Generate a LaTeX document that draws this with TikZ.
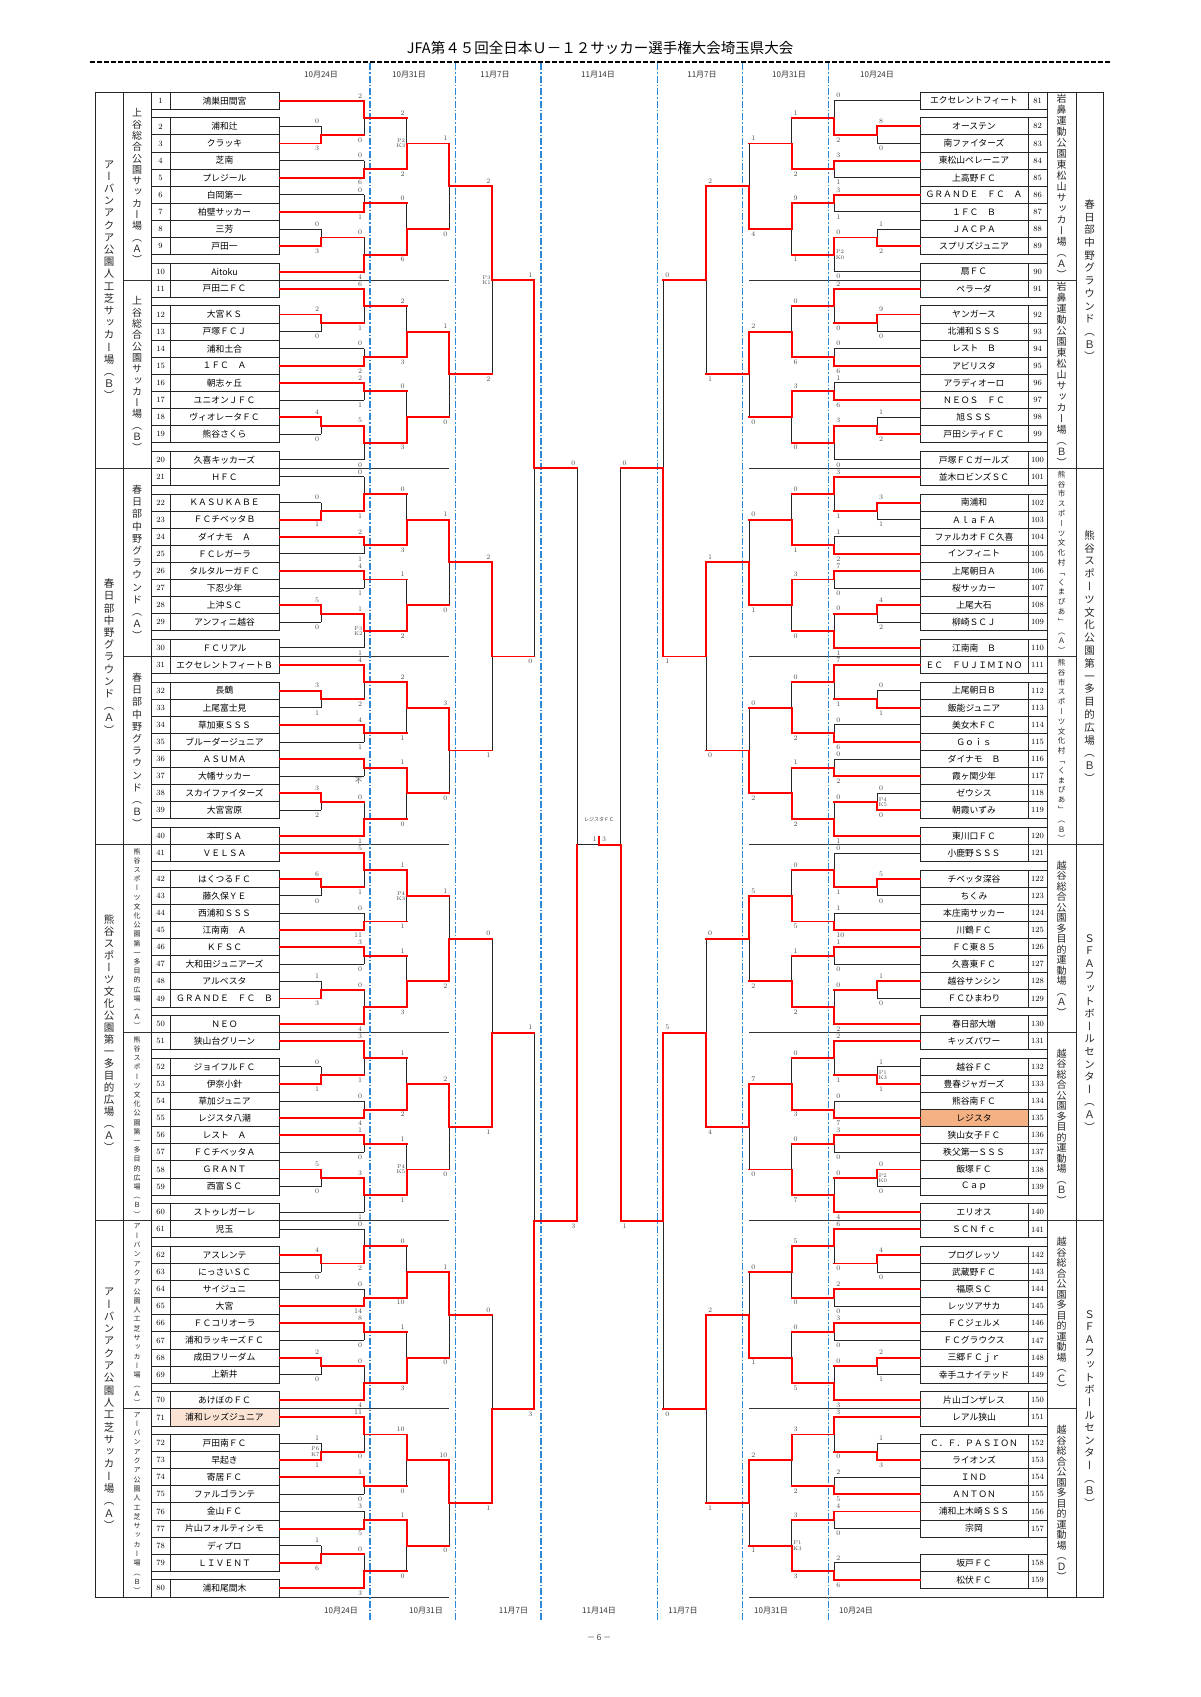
\documentclass[tikz,border=0pt]{standalone}
\usepackage{fontspec}
\newfontfamily\jf{Noto Sans CJK JP}
\newfontfamily\vjf[RawFeature=+vert]{Noto Sans CJK JP}
\definecolor{peach}{HTML}{FBE3D4}
\definecolor{orng}{HTML}{F4B183}
\definecolor{bl}{HTML}{2C88D9}
\pgfdeclarelayer{back}
\pgfdeclarelayer{bg}
\pgfsetlayers{back,bg,main}
\ExplSyntaxOn
\NewDocumentCommand\VT{mmm}{
  \vbox{\vjf\fontsize{#1}{#2}\selectfont
    \dim_set:Nn \lineskiplimit {-100pt}
    \tl_map_inline:nn {#3} {\hbox_to_wd:nn {#1pt} {\hfil ##1 \hfil}}
  }
}
\ExplSyntaxOff
\tikzset{
  win/.style={draw=red,line width=1.9pt,line cap=rect},
  lose/.style={draw=black!85,line width=0.9pt},
  sc/.style={font=\fontsize{7}{7}\selectfont,text=black!70,inner sep=0.3pt},
  pk/.style={font=\fontsize{5.5}{5.2}\selectfont,text=black!70,inner sep=0.3pt,align=center},
  namec/.style={draw=black!85,line width=0.9pt,minimum width=109pt,minimum height=17.1pt,inner sep=0.5pt,font=\jf\fontsize{8.8}{9}\selectfont},
  rnamec/.style={namec,minimum width=108pt},
  numc/.style={draw=black!85,line width=0.9pt,minimum width=19pt,minimum height=17.1pt,inner sep=0.3pt,font=\fontsize{8}{8}\selectfont},
  tbl/.style={draw=black!85,line width=0.9pt},
  sepl/.style={draw=black!80,line width=0.8pt},
  bluedash/.style={draw=bl,line width=1.1pt,dash pattern=on 7pt off 2pt on 1.5pt off 2pt},
  datel/.style={font=\jf\fontsize{8}{8}\selectfont,text=black!80},
  venue/.style={inner sep=0pt,text=black!85},
}
% match: side, X, Xnext, row top, row bottom, winner t/b, top score, bottom score, pk
\newcommand\Mt[9]{%
  \pgfmathsetmacro\yt{100.7+17.1*(#4)}%
  \pgfmathsetmacro\yb{100.7+17.1*(#5)}%
  \pgfmathsetmacro\ym{(\yt+\yb)/2}%
  \if#6t%
    \begin{pgfonlayer}{bg}\draw[lose] (#2,\ym) -- (#2,\yb);\end{pgfonlayer}%
    \draw[win] (#2,\yt) -- (#2,\ym);%
  \else
    \begin{pgfonlayer}{bg}\draw[lose] (#2,\yt) -- (#2,\ym);\end{pgfonlayer}%
    \draw[win] (#2,\ym) -- (#2,\yb);%
  \fi
  \ifdim#3pt=0pt\else\draw[win] (#2,\ym) -- (#3,\ym);\fi
  \if#1L%
    \node[sc,anchor=east] at ({#2-1.5},{\yt-5}) {#7};%
    \node[sc,anchor=east] at ({#2-1.5},{\yb+5}) {#8};%
    \node[pk,anchor=east] at ({#2-1},\ym) {#9};%
  \else
    \node[sc,anchor=west] at ({#2+1.5},{\yt-5}) {#7};%
    \node[sc,anchor=west] at ({#2+1.5},{\yb+5}) {#8};%
    \node[pk,anchor=west] at ({#2+1},\ym) {#9};%
  \fi
}
\def\Mqq#1#2#3#4#5#6/#7/#8/#9\relax{\Mt{#1}{#2}{#3}{#4}{#5}{#6}{#7}{#8}{#9}}
\newcommand\Mq[6]{\Mqq{#1}{#2}{#3}{#4}{#5}#6\relax}
\newcommand\LBlk[9]{%
 \Mq{L}{321}{364}{\blk+1.5}{\blk+2.5}{#1}%
 \Mq{L}{321}{364}{\blk+7.5}{\blk+8.5}{#2}%
 \Mq{L}{364}{406.7}{\blk}{\blk+2}{#3}%
 \Mq{L}{364}{406.7}{\blk+3.5}{\blk+4.5}{#4}%
 \Mq{L}{364}{406.7}{\blk+5.5}{\blk+6.5}{#5}%
 \Mq{L}{364}{406.7}{\blk+8}{\blk+10}{#6}%
 \Mq{L}{406.7}{449.3}{\blk+1}{\blk+4}{#7}%
 \Mq{L}{406.7}{449.3}{\blk+6}{\blk+9}{#8}%
 \Mq{L}{449.3}{492.3}{\blk+2.5}{\blk+7.5}{#9}}
\newcommand\RBlk[9]{%
 \Mq{R}{877}{834.3}{\blk+1.5}{\blk+2.5}{#1}%
 \Mq{R}{877}{834.3}{\blk+7.5}{\blk+8.5}{#2}%
 \Mq{R}{834.3}{791.7}{\blk}{\blk+2}{#3}%
 \Mq{R}{834.3}{791.7}{\blk+3.5}{\blk+4.5}{#4}%
 \Mq{R}{834.3}{791.7}{\blk+5.5}{\blk+6.5}{#5}%
 \Mq{R}{834.3}{791.7}{\blk+8}{\blk+10}{#6}%
 \Mq{R}{791.7}{749.3}{\blk+1}{\blk+4}{#7}%
 \Mq{R}{791.7}{749.3}{\blk+6}{\blk+9}{#8}%
 \Mq{R}{749.3}{706}{\blk+2.5}{\blk+7.5}{#9}}
\begin{document}
\begin{tikzpicture}[x=1pt,y=-1pt]
\begin{pgfonlayer}{back}\fill[white] (0,0) rectangle (1200,1697);\end{pgfonlayer}
\useasboundingbox (0,0) rectangle (1200,1697);
% title
\node[font=\jf\fontsize{14.5}{15}\selectfont] (title) at (600,47.5) {JFA第４５回全日本Ｕ－１２サッカー選手権大会埼玉県大会};
\draw[line width=1.6pt,dash pattern=on 5pt off 2pt] (90,62) -- (1110,62);
% blue date lines
\foreach \xx in {370,455.7,541,657.3,742.7,828.3} \draw[bluedash] (\xx,63) -- (\xx,1620);
\foreach \xx/\t [count=\c] in {321/10月24日,409/10月31日,495/11月7日,598/11月14日,702/11月7日,789/10月31日,877/10月24日}
  \node[datel] (dt\c) at (\xx,75) {\t};
\foreach \xx/\t [count=\c] in {341/10月24日,426/10月31日,513.5/11月7日,599/11月14日,683/11月7日,771/10月31日,856/10月24日}
  \node[datel] (db\c) at (\xx,1611) {\t};
\node[font=\jf\fontsize{8}{8}\selectfont,text=black!70] (pg) at (599,1638) {－６－};
% venue frames
\draw[tbl] (95,92.15) rectangle (151,1596.95);
\draw[tbl] (123,92.15) -- (123,1596.95);
\draw[tbl] (1047,92.15) rectangle (1103,1596.95);
\draw[tbl] (1076,92.15) -- (1076,1596.95);
\begin{pgfonlayer}{bg}
\foreach \r/\xl/\xr in {10.5/123/1076,21.5/95/1103,32.5/123/1076,43.5/95/1103,54.5/123/1076,65.5/95/1103,76.5/123/1076}{
  \pgfmathsetmacro\yy{100.7+17.1*\r}
  \draw[sepl] (\xl,\yy) -- (449.3,\yy);
  \draw[sepl] (749.3,\yy) -- (\xr,\yy);
}
\draw[sepl] (95,1596.95) -- (449.3,1596.95);
\draw[sepl] (749.3,1596.95) -- (1103,1596.95);
\end{pgfonlayer}
% venue labels
\node[venue] (vo1) at (109,280.25) {\VT{10.5}{12.2}{アーバンアクア公園人工芝サッカー場（Ｂ）}};
\node[venue] (vo2) at (109,656.45) {\VT{10.5}{12.2}{春日部中野グラウンド（Ａ）}};
\node[venue] (vo3) at (109,1032.65) {\VT{10.5}{12}{熊谷スポーツ文化公園第一多目的広場（Ａ）}};
\node[venue] (vo4) at (109,1408.85) {\VT{10.5}{12.3}{アーバンアクア公園人工芝サッカー場（Ａ）}};
\node[venue] (vs1) at (137,186.2) {\VT{10}{11.3}{上谷総合公園サッカー場（Ａ）}};
\node[venue] (vs2) at (137,374.3) {\VT{10}{11.3}{上谷総合公園サッカー場（Ｂ）}};
\node[venue] (vs3) at (137,562.4) {\VT{10}{12.2}{春日部中野グラウンド（Ａ）}};
\node[venue] (vs4) at (137,750.5) {\VT{10}{12.2}{春日部中野グラウンド（Ｂ）}};
\node[venue] (vs5) at (137,938.6) {\VT{7}{9.2}{熊谷スポーツ文化公園第一多目的広場（Ａ）}};
\node[venue] (vs6) at (137,1126.7) {\VT{7}{9.2}{熊谷スポーツ文化公園第一多目的広場（Ｂ）}};
\node[venue] (vs7) at (137,1314.8) {\VT{7}{9.3}{アーバンアクア公園人工芝サッカー場（Ａ）}};
\node[venue] (vs8) at (137,1502.9) {\VT{7}{9.3}{アーバンアクア公園人工芝サッカー場（Ｂ）}};
\node[venue] (wo1) at (1089.5,280.25) {\VT{10.5}{12.7}{春日部中野グラウンド（Ｂ）}};
\node[venue] (wo2) at (1089.5,656.45) {\VT{10.5}{12.8}{熊谷スポーツ文化公園第一多目的広場（Ｂ）}};
\node[venue] (wo3) at (1089.5,1032.65) {\VT{10.5}{12.6}{ＳＦＡフットボールセンター（Ａ）}};
\node[venue] (wo4) at (1089.5,1408.85) {\VT{10.5}{12.6}{ＳＦＡフットボールセンター（Ｂ）}};
\node[venue] (ws1) at (1061.5,186.2) {\VT{10}{11}{岩鼻運動公園東松山サッカー場（Ａ）}};
\node[venue] (ws2) at (1061.5,374.3) {\VT{10}{11}{岩鼻運動公園東松山サッカー場（Ｂ）}};
\node[venue] (ws3) at (1061.5,562.4) {\VT{7.5}{9.8}{熊谷市スポーツ文化村「くまぴあ」（Ａ）}};
\node[venue] (ws4) at (1061.5,750.5) {\VT{7.5}{9.8}{熊谷市スポーツ文化村「くまぴあ」（Ｂ）}};
\node[venue] (ws5) at (1061.5,938.6) {\VT{10}{10.5}{越谷総合公園多目的運動場（Ａ）}};
\node[venue] (ws6) at (1061.5,1126.7) {\VT{10}{10.5}{越谷総合公園多目的運動場（Ｂ）}};
\node[venue] (ws7) at (1061.5,1314.8) {\VT{10}{10.5}{越谷総合公園多目的運動場（Ｃ）}};
\node[venue] (ws8) at (1061.5,1502.9) {\VT{10}{10.5}{越谷総合公園多目的運動場（Ｄ）}};
% left teams
\foreach \k/\nm/\w in {1/鴻巣田間宮/1,2/浦和辻/0,3/クラッキ/1,4/芝南/0,5/プレジール/1,6/白岡第一/0,7/柏壁サッカー/1,8/三芳/0,9/戸田一/1,10/Aitoku/1,
 11/戸田二ＦＣ/1,12/大宮ＫＳ/1,13/戸塚ＦＣＪ/0,14/浦和土合/0,15/１ＦＣ　Ａ/1,16/朝志ヶ丘/1,17/ユニオンＪＦＣ/0,18/ヴィオレータＦＣ/1,19/熊谷さくら/0,20/久喜キッカーズ/0,
 21/ＨＦＣ/0,22/ＫＡＳＵＫＡＢＥ/0,23/ＦＣチベッタＢ/1,24/ダイナモ　Ａ/1,25/ＦＣレガーラ/0,26/タルタルーガＦＣ/1,27/下忍少年/0,28/上沖ＳＣ/1,29/アンフィニ越谷/0,30/ＦＣリアル/0,
 31/エクセレントフィートＢ/1,32/長鶴/1,33/上尾富士見/0,34/草加東ＳＳＳ/1,35/ブルーダージュニア/0,36/ＡＳＵＭＡ/1,37/大幡サッカー/0,38/スカイファイターズ/1,39/大宮宮原/0,40/本町ＳＡ/1,
 41/ＶＥＬＳＡ/1,42/はくつるＦＣ/1,43/藤久保ＹＥ/0,44/西浦和ＳＳＳ/0,45/江南南　Ａ/1,46/ＫＦＳＣ/1,47/大和田ジュニアーズ/0,48/アルベスタ/0,49/ＧＲＡＮＤＥ　ＦＣ　Ｂ/1,50/ＮＥＯ/1,
 51/狭山台グリーン/1,52/ジョイフルＦＣ/0,53/伊奈小針/1,54/草加ジュニア/0,55/レジスタ八潮/1,56/レスト　Ａ/1,57/ＦＣチベッタＡ/0,58/ＧＲＡＮＴ/1,59/西富ＳＣ/0,60/ストゥレガーレ/0,
 61/児玉/0,62/アスレンテ/1,63/にっさいＳＣ/0,64/サイジュニ/0,65/大宮/1,66/ＦＣコリオーラ/1,67/浦和ラッキーズＦＣ/0,68/成田フリーダム/1,69/上新井/0,70/あけぼのＦＣ/1,
 71/浦和レッズジュニア/1,72/戸田南ＦＣ/0,73/早起き/1,74/寄居ＦＣ/1,75/ファルゴランテ/0,76/金山ＦＣ/0,77/片山フォルティシモ/1,78/ディプロ/0,79/ＬＩＶＥＮＴ/1,80/浦和尾間木/1}{
  \pgfmathtruncatemacro\bb{div(\k-1,10)}
  \pgfmathtruncatemacro\ii{mod(\k-1,10)}
  \pgfmathsetmacro\yy{100.7+17.1*(11*\bb+ifthenelse(\ii==0,0,ifthenelse(\ii==9,10,\ii+0.5)))}
  \pgfmathsetmacro\xe{ifthenelse(\ii==1||\ii==2||\ii==7||\ii==8,321,364)}
  \node[numc] (N\k) at (160.5,\yy) {\k};
  \node[namec] (L\k) at (224.5,\yy) {\nm};
  \ifnum\w=1 \draw[win] (L\k.east) -- (\xe,\yy);
  \else \begin{pgfonlayer}{bg}\draw[lose] (L\k.east) -- (\xe,\yy);\end{pgfonlayer}\fi
}
% right teams
\foreach \k/\nm/\w in {81/エクセレントフィート/0,82/オーステン/1,83/南ファイターズ/0,84/東松山ペレーニア/1,85/上高野ＦＣ/0,86/ＧＲＡＮＤＥ　ＦＣ　Ａ/1,87/１ＦＣ　Ｂ/0,88/ＪＡＣＰＡ/0,89/スプリズジュニア/1,90/扇ＦＣ/0,
 91/ペラーダ/1,92/ヤンガース/1,93/北浦和ＳＳＳ/0,94/レスト　Ｂ/0,95/アビリスタ/1,96/アラディオーロ/0,97/ＮＥＯＳ　ＦＣ/1,98/旭ＳＳＳ/0,99/戸田シティＦＣ/1,100/戸塚ＦＣガールズ/0,
 101/並木ロビンズＳＣ/1,102/南浦和/1,103/ＡｌａＦＡ/0,104/ファルカオＦＣ久喜/0,105/インフィニト/1,106/上尾朝日Ａ/1,107/桜サッカー/0,108/上尾大石/1,109/柳崎ＳＣＪ/0,110/江南南　Ｂ/1,
 111/ＥＣ　ＦＵＪＩＭＩＮＯ/1,112/上尾朝日Ｂ/0,113/飯能ジュニア/1,114/美女木ＦＣ/0,115/Ｇｏｉｓ/1,116/ダイナモ　Ｂ/0,117/霞ヶ関少年/1,118/ゼウシス/0,119/朝霞いずみ/1,120/東川口ＦＣ/1,
 121/小鹿野ＳＳＳ/0,122/チベッタ深谷/1,123/ちくみ/0,124/本庄南サッカー/0,125/川鶴ＦＣ/1,126/ＦＣ東８５/1,127/久喜東ＦＣ/0,128/越谷サンシン/1,129/ＦＣひまわり/0,130/春日部大増/1,
 131/キッズパワー/1,132/越谷ＦＣ/0,133/豊春ジャガーズ/1,134/熊谷南ＦＣ/0,135/レジスタ/1,136/狭山女子ＦＣ/1,137/秩父第一ＳＳＳ/0,138/飯塚ＦＣ/1,139/Ｃａｐ/0,140/エリオス/1,
 141/ＳＣＮｆｃ/1,142/プログレッソ/1,143/武蔵野ＦＣ/0,144/福原ＳＣ/1,145/レッツアサカ/0,146/ＦＣジェルメ/1,147/ＦＣグラウクス/0,148/三郷ＦＣｊｒ/1,149/幸手ユナイテッド/0,150/片山ゴンザレス/1,
 151/レアル狭山/1,152/Ｃ．Ｆ．ＰＡＳＩＯＮ/0,153/ライオンズ/1,154/ＩＮＤ/0,155/ＡＮＴＯＮ/1,156/浦和上木崎ＳＳＳ/1,157/宗岡/0,158/坂戸ＦＣ/0,159/松伏ＦＣ/1}{
  \pgfmathtruncatemacro\bb{div(\k-81,10)}
  \pgfmathtruncatemacro\ii{mod(\k-81,10)}
  \pgfmathsetmacro\off{ifthenelse(\bb==7,ifthenelse(\ii==0,0,ifthenelse(\ii>=7,\ii+1.5,\ii+0.5)),ifthenelse(\ii==0,0,ifthenelse(\ii==9,10,\ii+0.5)))}
  \pgfmathsetmacro\yy{100.7+17.1*(11*\bb+\off)}
  \pgfmathsetmacro\xe{ifthenelse(\bb==7,ifthenelse(\ii==1||\ii==2,877,834.3),ifthenelse(\ii==1||\ii==2||\ii==7||\ii==8,877,834.3))}
  \node[numc] (RN\k) at (1037.5,\yy) {\k};
  \node[rnamec] (R\k) at (974,\yy) {\nm};
  \ifnum\w=1 \draw[win] (R\k.west) -- (\xe,\yy);
  \else \begin{pgfonlayer}{bg}\draw[lose] (R\k.west) -- (\xe,\yy);\end{pgfonlayer}\fi
}
\begin{pgfonlayer}{bg}
\fill[peach] ([shift={(0.5,-0.5)}]L71.south west) rectangle ([shift={(-0.5,0.5)}]L71.north east);
\fill[orng] ([shift={(0.5,-0.5)}]R135.south west) rectangle ([shift={(-0.5,0.5)}]R135.north east);
\end{pgfonlayer}
% left brackets
\def\blk{0}\LBlk{b/0/3/}{b/0/3/}{t/2/0/}{b/0/6/}{b/0/1/}{b/0/4/}{b/2/2/P2\\K3}{b/0/6/}{t/1/0/}
\def\blk{11}\LBlk{t/2/0/}{t/4/0/}{t/6/1/}{b/0/2/}{t/2/1/}{t/5/0/}{b/2/3/}{b/0/3/}{t/1/0/}
\def\blk{22}\LBlk{b/0/1/}{t/5/0/}{b/0/1/}{t/2/1/}{t/4/1/}{t/1/1/P3\\K2}{b/0/3/}{b/1/2/}{t/1/0/}
\def\blk{33}\LBlk{t/3/1/}{t/3/2/}{t/4/2/}{t/4/1/}{t//{\jf 不}/}{b/0/1/}{t/2/1/}{t/1/0/}{t/3/0/}
\def\blk{44}\LBlk{t/6/0/}{b/1/3/}{t/5/1/}{b/0/11/}{t/3/0/}{b/0/4/}{t/1/1/P4\\K3}{b/1/3/}{b/1/2/}
\def\blk{55}\LBlk{b/0/1/}{t/5/0/}{t/3/1/}{b/0/4/}{t/1/0/}{t/3/1/}{b/1/2/}{b/1/1/P4\\K5}{t/2/0/}
\def\blk{66}\LBlk{t/4/0/}{t/2/0/}{b/0/2/}{b/0/14/}{t/8/0/}{b/0/4/}{b/0/10/}{b/1/3/}{t/1/0/}
\def\blk{77}\LBlk{b/1/1/P6\\K7}{b/1/6/}{t/11/0/}{t/1/0/}{b/3/5/}{b/0/3/}{t/10/0/}{t/1/0/}{t/10/0/}
\Mt{L}{492.3}{534.3}{5}{16}{t}{2}{2}{P3\\K1}
\Mt{L}{492.3}{534.3}{27}{38}{t}{2}{1}{}
\Mt{L}{492.3}{534.3}{49}{60}{b}{0}{1}{}
\Mt{L}{492.3}{534.3}{71}{82}{b}{0}{1}{}
\Mt{L}{534.3}{577.3}{10.5}{32.5}{t}{1}{0}{}
\Mt{L}{534.3}{577.3}{54.5}{76.5}{b}{1}{3}{}
\Mt{L}{577.3}{0}{21.5}{65.5}{b}{0}{3}{}
% right brackets
\def\blk{0}\RBlk{t/8/0/}{b/1/2/}{b/0/2/}{t/3/1/}{t/3/1/}{t/0/0/P2\\K0}{b/1/2/}{t/9/1/}{b/1/4/}
\def\blk{11}\RBlk{t/9/0/}{b/1/2/}{t/2/0/}{b/0/6/}{b/1/6/}{t/3/0/}{b/0/6/}{t/3/0/}{t/2/0/}
\def\blk{22}\RBlk{t/3/1/}{t/4/2/}{t/3/1/}{b/1/2/}{t/7/0/}{b/0/1/}{b/0/1/}{t/3/0/}{b/0/1/}
\def\blk{33}\RBlk{b/0/1/}{b/0/0/P4\\K5}{t/7/1/}{b/0/6/}{b/0/2/}{b/0/1/}{b/0/2/}{b/1/2/}{b/0/2/}
\def\blk{44}\RBlk{t/5/0/}{t/1/0/}{b/0/1/}{b/1/10/}{t/1/0/}{b/0/2/}{b/0/5/}{b/1/2/}{t/5/2/}
\def\blk{55}\RBlk{b/1/1/P1\\K3}{t/0/0/P2\\K0}{t/2/1/}{b/0/7/}{t/3/0/}{b/0/4/}{b/0/3/}{b/0/7/}{t/7/0/}
\def\blk{66}\RBlk{t/4/0/}{t/2/1/}{t/6/0/}{t/2/0/}{t/3/0/}{b/0/3/}{t/5/0/}{b/0/5/}{b/0/1/}
\Mq{R}{877}{834.3}{78.5}{79.5}{b/1/3/}
\Mq{R}{834.3}{791.7}{77}{79}{t/3/0/}
\Mq{R}{834.3}{791.7}{80.5}{81.5}{b/2/5/}
\Mq{R}{834.3}{791.7}{82.5}{83.5}{t/4/0/}
\Mq{R}{834.3}{791.7}{85.5}{86.5}{b/2/6/}
\Mq{R}{791.7}{749.3}{78}{81}{t/3/2/}
\Mq{R}{791.7}{749.3}{83}{86}{b/3/3/P1\\K3}
\Mq{R}{749.3}{706}{79.5}{84.5}{t/2/1/}
\Mt{R}{706}{663.3}{5}{16}{t}{2}{1}{}
\Mt{R}{706}{663.3}{27}{38}{t}{1}{0}{}
\Mt{R}{706}{663.3}{49}{60}{b}{0}{4}{}
\Mt{R}{706}{663.3}{71}{82}{t}{2}{1}{}
\Mt{R}{663.3}{620.7}{10.5}{32.5}{b}{0}{1}{}
\Mt{R}{663.3}{620.7}{54.5}{76.5}{t}{5}{0}{}
\Mt{R}{620.7}{0}{21.5}{65.5}{b}{0}{1}{}
% final
\begin{pgfonlayer}{bg}\draw[lose] (577.3,844.55) -- (599,844.55);\end{pgfonlayer}
\draw[win] (620.7,844.55) -- (599,844.55) -- (599,836.5);
\node[font=\jf\fontsize{5}{5}\selectfont,text=black!75] (champ) at (599,820) {レジスタＦＣ};
\node[sc] (fsl) at (594.5,839.5) {1};
\node[sc] (fsr) at (604,839.5) {3};
\end{tikzpicture}
\end{document}
